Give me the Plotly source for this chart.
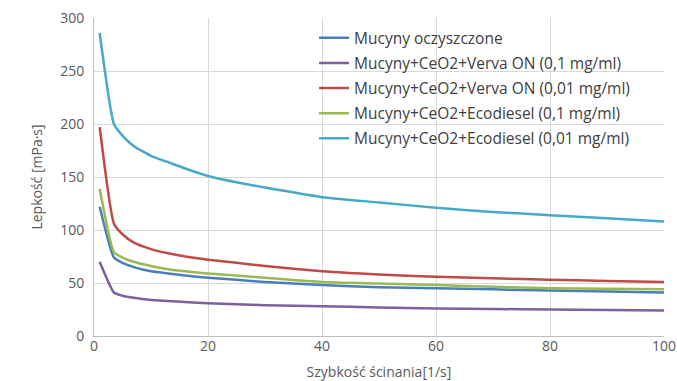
import plotly.graph_objects as go

shear = [1, 3.5, 5, 7, 10, 13, 16, 20, 25, 30, 40, 50, 60, 70, 80, 90, 100]

names = [
    "Mucyny oczyszczone",
    "Mucyny+CeO2+Verva ON (0,1 mg/ml)",
    "Mucyny+CeO2+Verva ON (0,01 mg/ml)",
    "Mucyny+CeO2+Ecodiesel (0,1 mg/ml)",
    "Mucyny+CeO2+Ecodiesel (0,01 mg/ml)",
]
blue = [122, 74, 69, 65, 61, 59, 57, 55, 53, 51, 48, 46, 45, 44, 43, 42, 41]
purple = [70, 41, 38, 36, 34, 33, 32, 31, 30, 29, 28, 27, 26, 25.5, 25, 24.5, 24]
red = [197, 106, 96, 88, 82, 78, 75, 72, 69, 66, 61, 58, 56, 54.5, 53, 52, 51]
green = [139, 79, 74, 70, 66, 63, 61, 59, 57, 55, 51, 49.5, 48, 46.5, 45, 44.5, 44]
cyan = [286, 200, 189, 179, 170, 164, 158, 151, 145, 140, 131, 126, 121, 117, 114, 111, 108]
series = [blue, purple, red, green, cyan]
colors = ["#4a7ebb", "#7d60a0", "#be4b48", "#98b954", "#46aac5"]

fig = go.Figure()
for i, (n, v, c) in enumerate(zip(names, series, colors)):
    fig.add_trace(go.Scatter(x=shear, y=v, name=n, mode="lines",
                             line=dict(color=c, width=2.5, shape="spline", smoothing=0.5),
                             legendgroup=str(i)))

font = "Open Sans, Noto Sans, sans-serif"
fig.update_layout(
    width=677, height=381,
    margin=dict(l=94, r=13, t=18, b=45),
    paper_bgcolor="white", plot_bgcolor="white",
    font=dict(family=font, size=14, color="#595959"),
    showlegend=True,
    legend=dict(x=0.386, y=0.99, xanchor="left", yanchor="top",
                bgcolor="rgba(255,255,255,0)", font=dict(size=15.5, color="#404040"),
                tracegroupgap=2, itemwidth=30),
    xaxis=dict(range=[0, 100], tickvals=[0, 20, 40, 60, 80, 100],
               showgrid=True, gridcolor="#d9d9d9", gridwidth=1, automargin=False,
               showline=True, linecolor="#bfbfbf", linewidth=1, zeroline=False,
               ticks="", tickfont=dict(size=14), ticklabelstandoff=-3,
               ticklabeloverflow="allow",
               title=dict(text="Szybkość ścinania[1/s]", standoff=16,
                          font=dict(size=14, color="#595959"))),
    yaxis=dict(range=[0, 300], tickvals=[0, 50, 100, 150, 200, 250, 300],
               showgrid=True, gridcolor="#d9d9d9", gridwidth=1, automargin=False,
               showline=True, linecolor="#bfbfbf", linewidth=1, zeroline=False,
               ticks="", tickfont=dict(size=14), ticklabelstandoff=6,
               ticklabeloverflow="allow",
               title=dict(text="Lepkość [mPa·s]", standoff=14,
                          font=dict(size=14, color="#595959"))),
)
fig.write_html("out.html", config={"displayModeBar": False},
               post_script="document.body.style.margin='0';document.body.style.overflow='hidden';")
